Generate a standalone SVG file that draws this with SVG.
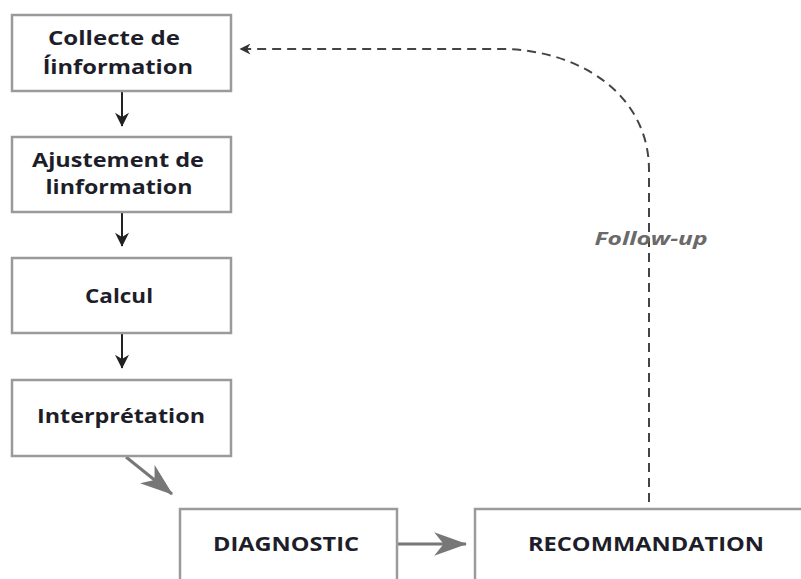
<svg xmlns="http://www.w3.org/2000/svg" width="801" height="579" viewBox="0 0 801 579">
<defs>
<style>
.box{fill:#fff;stroke:#9a9a9a;stroke-width:2.5}
.t{font-family:"Open Sans","Liberation Sans",sans-serif;font-weight:700;font-size:19px;fill:#1e1e2a;text-anchor:middle}
.b{font-size:20px}
.blk{stroke:#222;stroke-width:2;fill:none}
.gry{stroke:#777;stroke-width:3;fill:none}
.dash{stroke:#444;stroke-width:2;fill:none;stroke-dasharray:9,6}
.lbl{font-family:"Open Sans","Liberation Sans",sans-serif;font-weight:700;font-style:italic;font-size:17px;fill:#6a6a6a;text-anchor:middle}
</style>
<marker id="ab" viewBox="0 0 10 10" refX="9.5" refY="5" markerWidth="16" markerHeight="14" orient="auto" markerUnits="userSpaceOnUse"><path d="M0,0 L10,5 L0,10 L3,5 Z" fill="#222"/></marker>
<marker id="ag" viewBox="0 0 14 10" refX="13.5" refY="5" markerWidth="33" markerHeight="24" orient="auto" markerUnits="userSpaceOnUse"><path d="M0,0 L14,5 L0,10 L4,5 Z" fill="#777"/></marker>
<marker id="ad" viewBox="0 0 10 10" refX="9.5" refY="5" markerWidth="18" markerHeight="11" orient="auto" markerUnits="userSpaceOnUse"><path d="M0,0 L10,5 L0,10 L3,5 Z" fill="#333"/></marker>
</defs>
<rect width="801" height="579" fill="#fff"/>
<g id="connectors">
<line class="blk" x1="122" y1="91" x2="122" y2="126" marker-end="url(#ab)"/>
<line class="blk" x1="122" y1="212" x2="122" y2="246" marker-end="url(#ab)"/>
<line class="blk" x1="122" y1="333" x2="122" y2="368" marker-end="url(#ab)"/>
<line class="gry" x1="126" y1="457" x2="172" y2="494" marker-end="url(#ag)"/>
<line class="gry" x1="398" y1="544" x2="466" y2="544" marker-end="url(#ag)"/>
<path class="dash" d="M649,502 L649,170 C649,95 580,49 500,49 L240,49" marker-end="url(#ad)"/>
<text class="lbl" x="651" y="245" textLength="113" lengthAdjust="spacingAndGlyphs">Follow-up</text>
</g>
<g id="n1"><rect class="box" x="12" y="15" width="219" height="76"/><text class="t" x="114" y="45" textLength="132" lengthAdjust="spacingAndGlyphs">Collecte de</text><text class="t" x="118" y="74" textLength="150" lengthAdjust="spacingAndGlyphs">ĺinformation</text></g>
<g id="n2"><rect class="box" x="12" y="137" width="219" height="75"/><text class="t" x="118" y="167" textLength="172" lengthAdjust="spacingAndGlyphs">Ajustement de</text><text class="t" x="119" y="194" textLength="147" lengthAdjust="spacingAndGlyphs">linformation</text></g>
<g id="n3"><rect class="box" x="12" y="258" width="219" height="75"/><text class="t" x="119" y="303" textLength="68" lengthAdjust="spacingAndGlyphs">Calcul</text></g>
<g id="n4"><rect class="box" x="12" y="380" width="219" height="76"/><text class="t" x="121" y="423" textLength="168" lengthAdjust="spacingAndGlyphs">Interprétation</text></g>
<g id="n5"><rect class="box" x="180" y="509" width="217" height="80"/><text class="t b" x="286" y="551" textLength="146" lengthAdjust="spacingAndGlyphs">DIAGNOSTIC</text></g>
<g id="n6"><rect class="box" x="475" y="509" width="340" height="80"/><text class="t b" x="646" y="551" textLength="236" lengthAdjust="spacingAndGlyphs">RECOMMANDATION</text></g>
</svg>
